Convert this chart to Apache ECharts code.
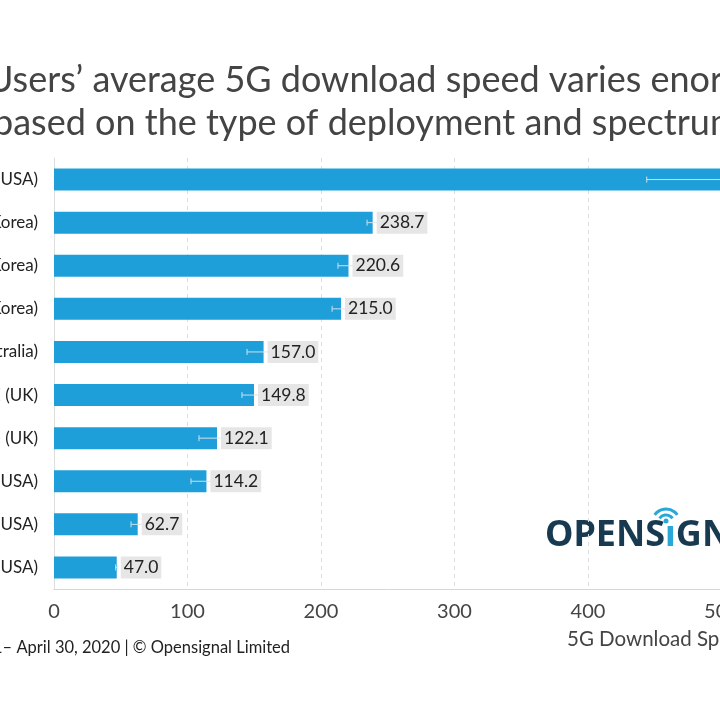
<!DOCTYPE html>
<html>
<head>
<meta charset="utf-8">
<script src="https://cdn.jsdelivr.net/npm/echarts@6/dist/echarts.min.js"></script>
<style>
  html, body { margin: 0; padding: 0; background: #fff; }
  #chart { width: 720px; height: 720px; }
</style>
</head>
<body>
<div id="chart"></div>
<script>
  // operators, top to bottom
  var categories = [
    'Verizon (USA)', 'LG U+ (South Korea)', 'KT (South Korea)', 'SK Telecom (South Korea)',
    'Telstra (Australia)', 'EE (UK)', 'Vodafone (UK)', 'Sprint (USA)', 'AT&T (USA)', 'T-Mobile (USA)'
  ];
  // average 5G download speed, Mbps
  var speeds = [506.1, 238.7, 220.6, 215.0, 157.0, 149.8, 122.1, 114.2, 62.7, 47.0];
  // confidence interval ends
  var ciLow = [444, 234.5, 212.7, 208.3, 144.6, 140.8, 108.6, 102.6, 57.7, 46.2];
  var ciHigh = [568, 242.9, 228.5, 221.7, 169.4, 158.8, 135.6, 125.8, 67.7, 47.8];
  var xTicks = [0, 100, 200, 300, 400, 500, 600];

  var font = 'Lato, "Open Sans", sans-serif';
  var myChart = echarts.init(document.getElementById('chart'));

  var errData = categories.map(function (c, i) { return [i, ciLow[i], ciHigh[i]]; });

  var option = {
    backgroundColor: '#fff',
    animation: false,
    textStyle: { fontFamily: font },
    grid: { left: 54, top: 158, width: 801, bottom: 131, containLabel: false, outerBoundsMode: 'none' },
    xAxis: {
      type: 'value',
      min: xTicks[0],
      max: xTicks[xTicks.length - 1],
      interval: 100,
      axisLine: { show: true, lineStyle: { color: '#d6d6d6', width: 1 } },
      axisTick: { show: false },
      splitLine: { show: true, lineStyle: { color: '#dcdcdc', type: [4, 4], width: 1 } },
      axisLabel: { fontSize: 20, color: '#444', margin: 13, fontFamily: font }
    },
    yAxis: {
      type: 'category',
      data: categories,
      inverse: true,
      axisLine: { show: true, lineStyle: { color: '#dedede', width: 1 } },
      axisTick: { show: false },
      axisLabel: { fontSize: 17, color: '#222', margin: 16, fontFamily: font }
    },
    series: [
      {
        type: 'bar',
        data: speeds,
        barWidth: '51%',
        itemStyle: { color: '#1f9fda' },
        z: 2
      },
      {
        type: 'custom',
        z: 3,
        data: errData,
        renderItem: function (params, api) {
          var y = api.value(0);
          var p1 = api.coord([api.value(1), y]);
          var p2 = api.coord([api.value(2), y]);
          var h = 3;
          var st = { stroke: 'rgba(215,228,236,0.95)', lineWidth: 1 };
          return {
            type: 'group',
            children: [
              { type: 'line', shape: { x1: p1[0], y1: p1[1], x2: p2[0], y2: p2[1] }, style: st },
              { type: 'line', shape: { x1: p1[0], y1: p1[1] - h, x2: p1[0], y2: p1[1] + h }, style: st },
              { type: 'line', shape: { x1: p2[0], y1: p2[1] - h, x2: p2[0], y2: p2[1] + h }, style: st }
            ]
          };
        }
      },
      {
        type: 'bar',
        data: speeds,
        barWidth: '51%',
        barGap: '-100%',
        z: 4,
        itemStyle: { color: 'rgba(0,0,0,0)' },
        label: {
          show: true,
          position: 'right',
          distance: 4,
          fontSize: 17.5,
          color: '#222',
          fontFamily: font,
          backgroundColor: '#e6e6e6',
          padding: [3, 3, 1, 3],
          formatter: function (p) { return p.value.toFixed(1); }
        }
      }
    ],
    graphic: [
      {
        type: 'text', left: -13, top: 62,
        style: { text: 'Users’ average 5G download speed varies enormously', fontSize: 36, fill: '#444', fontFamily: font }
      },
      {
        type: 'text', left: -7, top: 105,
        style: { text: 'based on the type of deployment and spectrum used', fontSize: 36, fill: '#444', fontFamily: font }
      },
      {
        type: 'text', x: 290, y: 648,
        style: {
          text: 'Analysis period: February 1– April 30, 2020 | © Opensignal Limited',
          fontSize: 16.5, fill: '#222', fontFamily: font, align: 'right', verticalAlign: 'middle'
        }
      },
      {
        type: 'text', x: 567, y: 639,
        style: { text: '5G Download Speed (Mbps)', fontSize: 20.5, fill: '#444', fontFamily: font, verticalAlign: 'middle' }
      },
      {
        type: 'text', x: 545, y: 536,
        style: {
          text: '{a|OPENS}{b|ı}{a|GNAL}',
          verticalAlign: 'middle',
          rich: {
            a: { fontSize: 36, fontWeight: 'bold', fill: '#173a50', fontFamily: '"Noto Sans", sans-serif' },
            b: { fontSize: 36, fontWeight: 'bold', fill: '#29a8d8', fontFamily: '"Noto Sans", sans-serif' }
          }
        }
      },
      {
        type: 'circle', shape: { cx: 666, cy: 521, r: 2.5 }, style: { fill: '#29a8d8' }
      },
      {
        type: 'arc', shape: { cx: 666, cy: 523, r: 8, startAngle: -Math.PI * 0.8, endAngle: -Math.PI * 0.2 },
        style: { stroke: '#29a8d8', lineWidth: 3, fill: null }
      },
      {
        type: 'arc', shape: { cx: 666, cy: 523, r: 14, startAngle: -Math.PI * 0.8, endAngle: -Math.PI * 0.2 },
        style: { stroke: '#29a8d8', lineWidth: 3, fill: null }
      }
    ]
  };
  myChart.setOption(option);
</script>
</body>
</html>
